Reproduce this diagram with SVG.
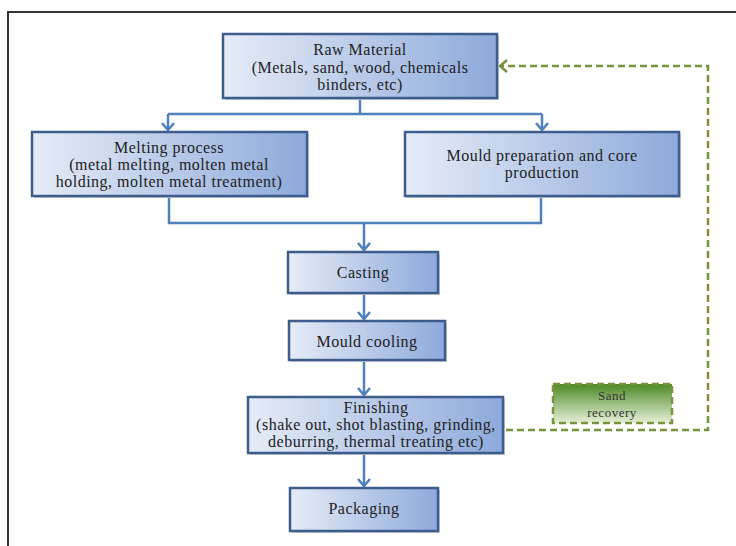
<svg xmlns="http://www.w3.org/2000/svg" width="736" height="546" viewBox="0 0 736 546">
<style>
.box{stroke:#3d5d8c;stroke-width:2.5;fill:url(#bg)}
.sh{fill:#c8ccd4}
.t{font-family:"Liberation Serif","DejaVu Serif",serif;font-size:16px;letter-spacing:0.5px;fill:#222;text-anchor:middle}
.c{fill:none;stroke:#4f81bd;stroke-width:2.5}
.g{fill:none;stroke:#77933c;stroke-width:2.5;stroke-dasharray:7,4}
</style>
<defs>
<linearGradient id="bg" x1="0" y1="0" x2="1" y2="0">
<stop offset="0" stop-color="#e6ecf7"/>
<stop offset="1" stop-color="#8eaadb"/>
</linearGradient>
<linearGradient id="gg" x1="0" y1="0" x2="0" y2="1">
<stop offset="0" stop-color="#4e8a26"/>
<stop offset="1" stop-color="#e4f0d8"/>
</linearGradient>
<marker id="a" markerUnits="userSpaceOnUse" markerWidth="16" markerHeight="16" refX="13" refY="8" orient="auto" viewBox="0 0 16 16">
<path d="M6,2 L13,8 L6,14" fill="none" stroke="#4f81bd" stroke-width="2.5"/>
</marker>
<marker id="ga" markerUnits="userSpaceOnUse" markerWidth="16" markerHeight="16" refX="13" refY="8" orient="auto" viewBox="0 0 16 16">
<path d="M6,2 L13,8 L6,14" fill="none" stroke="#77933c" stroke-width="2.5"/>
</marker>
</defs>
<rect width="736" height="546" fill="#fff"/>
<path d="M8,546 V12 H736" fill="none" stroke="#333" stroke-width="2"/>

<g id="connectors">
<path class="c" d="M360,98 V114"/>
<path class="c" d="M168,114 H542"/>
<path class="c" d="M168,114 V130" marker-end="url(#a)"/>
<path class="c" d="M542,114 V130" marker-end="url(#a)"/>
<path class="c" d="M169,196 V223 H541 V196"/>
<path class="c" d="M364,223 V250" marker-end="url(#a)"/>
<path class="c" d="M364,293 V319" marker-end="url(#a)"/>
<path class="c" d="M364,360 V395" marker-end="url(#a)"/>
<path class="c" d="M364,453 V486" marker-end="url(#a)"/>
<path class="g" d="M506,430 H708 V66 H500" marker-end="url(#ga)"/>
</g>

<g id="raw">
<rect class="sh" x="225" y="36" width="274" height="64"/>
<rect class="box" x="223" y="34" width="274" height="64"/>
<text class="t" x="360" y="55">Raw Material</text>
<text class="t" x="360" y="73">(Metals, sand, wood,  chemicals</text>
<text class="t" x="360" y="90">binders, etc)</text>
</g>
<g id="melting">
<rect class="sh" x="34" y="134" width="275" height="64"/>
<rect class="box" x="32" y="132" width="275" height="64"/>
<text class="t" x="169" y="153">Melting  process</text>
<text class="t" x="169" y="170">(metal melting, molten metal</text>
<text class="t" x="169" y="187">holding, molten metal treatment)</text>
</g>
<g id="mould">
<rect class="sh" x="407" y="134" width="274" height="64"/>
<rect class="box" x="405" y="132" width="274" height="64"/>
<text class="t" x="542" y="161">Mould preparation  and core</text>
<text class="t" x="542" y="178">production</text>
</g>
<g id="casting">
<rect class="sh" x="290" y="254" width="150" height="41"/>
<rect class="box" x="288" y="252" width="150" height="41"/>
<text class="t" x="363" y="278">Casting</text>
</g>
<g id="cooling">
<rect class="sh" x="291" y="323" width="156" height="39"/>
<rect class="box" x="289" y="321" width="156" height="39"/>
<text class="t" x="367" y="347">Mould cooling</text>
</g>
<g id="finishing">
<rect class="sh" x="250" y="399" width="255" height="56"/>
<rect class="box" x="248" y="397" width="255" height="56"/>
<text class="t" x="376" y="413">Finishing</text>
<text class="t" x="376" y="430">(shake out, shot blasting, grinding,</text>
<text class="t" x="376" y="447">deburring, thermal treating etc)</text>
</g>
<g id="packaging">
<rect class="sh" x="292" y="490" width="148" height="43"/>
<rect class="box" x="290" y="488" width="148" height="43"/>
<text class="t" x="364" y="514">Packaging</text>
</g>
<g id="sand">
<rect x="553" y="384" width="119" height="39" fill="url(#gg)" stroke="#77933c" stroke-width="2.5" stroke-dasharray="7,4"/>
<text class="t" x="612" y="400" style="font-size:13px;fill:#333">Sand</text>
<text class="t" x="612" y="417" style="font-size:13px;fill:#333">recovery</text>
</g>
</svg>
